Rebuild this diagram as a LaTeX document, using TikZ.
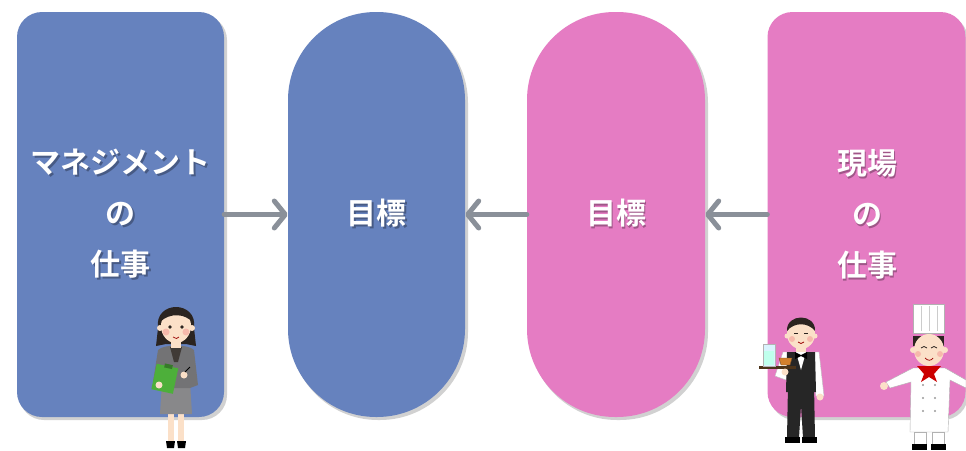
\documentclass[tikz,border=0pt]{standalone}
\usepackage{fontspec}
\newfontfamily\jp{Noto Sans CJK JP}[BoldFont={Noto Sans CJK JP Bold}]
\usetikzlibrary{arrows.meta}
\definecolor{boxblue}{HTML}{6682BE}
\definecolor{boxpink}{HTML}{E57CC3}
\definecolor{arrowgrey}{HTML}{8A9099}
\definecolor{skin}{HTML}{FBE0C8}
\definecolor{cheek}{HTML}{F5A9A0}
\definecolor{hair}{HTML}{2B2420}
\definecolor{suit}{HTML}{737375}
\definecolor{clipgreen}{HTML}{4DAF3A}
\tikzset{
  panel/.style={minimum height=405pt, inner sep=0pt, draw=none},
  shade/.style={fill=black, opacity=0.18},
  label/.style={text=white, font=\jp\bfseries\fontsize{30}{51}\selectfont, align=center},
  labelshade/.style={text=black, opacity=0.3, font=\jp\bfseries\fontsize{30}{51}\selectfont, align=center},
  flow/.style={draw=arrowgrey, line width=5pt, line cap=round,
    -{Straight Barb[length=11pt,width=27pt,line cap=round,line join=round]}},
}
\begin{document}
\begin{tikzpicture}[x=1pt,y=-1pt]
\useasboundingbox (0,0) rectangle (966,450);
\fill[white] (0,0) rectangle (966,450);

% drop shadows of the four panels
\fill[shade, rounded corners=25pt] (19,15) rectangle (227,420);
\fill[shade, rounded corners=88pt] (290,15) rectangle (468,420);
\fill[shade, rounded corners=88pt] (529,15) rectangle (708,420);
\fill[shade, rounded corners=25pt] (770,15) rectangle (968,420);

% panels
\node[panel, fill=boxblue, rounded corners=25pt, minimum width=207pt] (mgmt) at (120.5,214.5) {};
\node[panel, fill=boxblue, rounded corners=88pt, minimum width=177pt] (goalA) at (376.5,214.5) {};
\node[panel, fill=boxpink, rounded corners=88pt, minimum width=178pt] (goalB) at (616,214.5) {};
\node[panel, fill=boxpink, rounded corners=25pt, minimum width=198pt] (field) at (866.5,214.5) {};

% labels, each over a soft shadow
\node[labelshade] (mgmtS) at (122,216) {マネジメント\\の\\仕事};
\node[label] (mgmtT) at (120.5,214) {マネジメント\\の\\仕事};
\node[labelshade] (goalAS) at (378,215) {目標};
\node[label] (goalAT) at (376.5,213) {目標};
\node[labelshade] (goalBS) at (617.5,215) {目標};
\node[label] (goalBT) at (616,213) {目標};
\node[labelshade] (fieldS) at (868.5,216) {現場\\の\\仕事};
\node[label] (fieldT) at (867,214) {現場\\の\\仕事};

% connectors
\draw[flow] (mgmt.east) -- (goalA.west);
\draw[flow] (goalB.west) -- (goalA.east);
\draw[flow] (field.west) -- (goalB.east);

% ---- office worker with clipboard ----
\begin{scope}
  % legs and shoes
  \fill[skin] (168,412) rectangle (174,442);
  \fill[skin] (178,412) rectangle (184,442);
  \fill[black] (166,441) -- (175,441) -- (174,448) -- (167,448) -- cycle;
  \fill[black] (177,441) -- (186,441) -- (185,448) -- (178,448) -- cycle;
  % skirt
  \fill[suit!85] (162,382) -- (190,382) -- (192,414) -- (160,414) -- cycle;
  % hair back (shoulder length)
  \fill[hair] (158,328) .. controls (154,300) and (198,300) .. (194,328)
    -- (196,346) -- (186,344) -- (166,344) -- (156,346) -- cycle;
  % jacket
  \fill[suit] (158,350) .. controls (164,344) and (188,344) .. (194,350)
    -- (198,385) -- (190,388) -- (162,388) -- (153,382) -- cycle;
  \fill[hair!90] (170,347) -- (182,347) -- (178,362) -- (174,362) -- cycle;
  % neck
  \fill[skin] (171,338) rectangle (181,348);
  % face
  \fill[skin] (176,326) ellipse (15pt and 17pt);
  \fill[cheek, opacity=0.7] (166,332) circle (3.5pt);
  \fill[cheek, opacity=0.7] (186,332) circle (3.5pt);
  \fill[hair] (170,327) circle (1.8pt);
  \fill[hair] (182,327) circle (1.8pt);
  \draw[red!60!black, line width=0.7pt] (173,337) .. controls (175,339) and (178,339) .. (179,337);
  % bangs
  \fill[hair] (160,322) .. controls (160,304) and (192,304) .. (192,322)
    .. controls (186,314) and (170,312) .. (160,322) -- cycle;
  % ears
  \fill[skin] (160,328) circle (3pt);
  \fill[skin] (192,328) circle (3pt);
  % clipboard, hands and pen
  \fill[clipgreen, rotate around={-12:(166,378)}] (154,366) rectangle (176,392);
  \fill[clipgreen!70!black, rotate around={-12:(166,378)}] (162,364) rectangle (170,368);
  \fill[skin] (159,385) circle (3.5pt);
  \fill[skin] (184,375) circle (3.5pt);
  \draw[black, line width=1pt] (185,372) -- (190,367);
\end{scope}

% ---- waiter with tray ----
\begin{scope}
  % trousers and shoes
  \fill[black!85] (788,385) -- (814,385) -- (815,438) -- (803,438) -- (801,405) -- (799,438) -- (787,438) -- cycle;
  \fill[black] (785,437) rectangle (800,443);
  \fill[black] (802,437) rectangle (817,443);
  % white shirt sleeves
  \fill[white, draw=black!25] (783,352) -- (819,352) -- (824,396) -- (816,396) -- (813,372) -- (789,372) -- (786,380) -- (775,376) -- cycle;
  % vest
  \fill[black!85] (787,352) -- (815,352) -- (816,392) -- (786,392) -- cycle;
  \fill[white] (796,352) -- (806,352) -- (801,370) -- cycle;
  % bow tie
  \fill[black] (795,352) -- (801,355) -- (807,352) -- (807,359) -- (801,356) -- (795,359) -- cycle;
  % right hand
  \fill[skin] (820,397) circle (3.5pt);
  % neck and head
  \fill[skin] (796,343) rectangle (806,352);
  \fill[skin] (801,334) ellipse (14pt and 15pt);
  \fill[hair] (787,331) .. controls (786,313) and (816,313) .. (815,331)
    .. controls (808,322) and (794,322) .. (787,331) -- cycle;
  \fill[skin] (787,336) circle (2.5pt);
  \fill[skin] (815,336) circle (2.5pt);
  \draw[hair, line width=0.8pt] (794,333) -- (798,333);
  \draw[hair, line width=0.8pt] (804,333) -- (808,333);
  \fill[cheek, opacity=0.7] (792,339) circle (3pt);
  \fill[cheek, opacity=0.7] (810,339) circle (3pt);
  \draw[red!60!black, line width=0.7pt] (798,342) .. controls (800,344) and (802,344) .. (804,342);
  % tray, glass and cup
  \fill[black!60!brown] (759,366) rectangle (796,369);
  \fill[cyan!15, draw=black!30] (763,344) rectangle (775,366);
  \fill[green!30!cyan!25] (764,351) rectangle (774,365);
  \fill[brown!70!orange, draw=brown!60!black] (779,358) -- (792,358) -- (790,365) -- (781,365) -- cycle;
  \fill[skin] (785,372) circle (3.5pt);
\end{scope}

% ---- chef ----
\begin{scope}
  % hat
  \fill[white, draw=black!30] (913,304) rectangle (944,333);
  \draw[black!20] (921,306) -- (921,331);
  \draw[black!20] (929,306) -- (929,331);
  \draw[black!20] (937,306) -- (937,331);
  % face and hair
  \fill[hair] (913,336) rectangle (944,346);
  \fill[skin] (929,350) ellipse (15pt and 16pt);
  \fill[skin] (913,350) circle (3pt);
  \fill[skin] (945,350) circle (3pt);
  \draw[hair, line width=0.8pt] (921,348) .. controls (923,346) and (925,346) .. (927,348);
  \draw[hair, line width=0.8pt] (931,348) .. controls (933,346) and (935,346) .. (937,348);
  \fill[cheek, opacity=0.7] (918,354) circle (3pt);
  \fill[cheek, opacity=0.7] (940,354) circle (3pt);
  \draw[red!60!black, line width=0.7pt] (925,358) .. controls (928,361) and (931,361) .. (933,358);
  % coat with arms
  \fill[white, draw=black!30] (913,368) -- (945,368) -- (966,380) -- (966,388) -- (950,380) -- (948,432) -- (910,432) -- (911,382) -- (890,388) -- (886,382) -- cycle;
  \foreach \yy in {385,398,411}{
    \fill[black!40] (923,\yy) circle (1.2pt);
    \fill[black!40] (935,\yy) circle (1.2pt);
  }
  % scarf
  \fill[red!80!black] (917,366) -- (941,366) -- (934,374) -- (937,382) -- (929,377) -- (921,382) -- (924,374) -- cycle;
  % hand
  \fill[skin] (884,386) circle (4pt);
  % trousers and shoes
  \fill[white, draw=black!30] (914,432) rectangle (926,446);
  \fill[white, draw=black!30] (932,432) rectangle (944,446);
  \fill[black] (912,444) rectangle (927,450);
  \fill[black] (931,444) rectangle (946,450);
\end{scope}
\end{tikzpicture}
\end{document}
